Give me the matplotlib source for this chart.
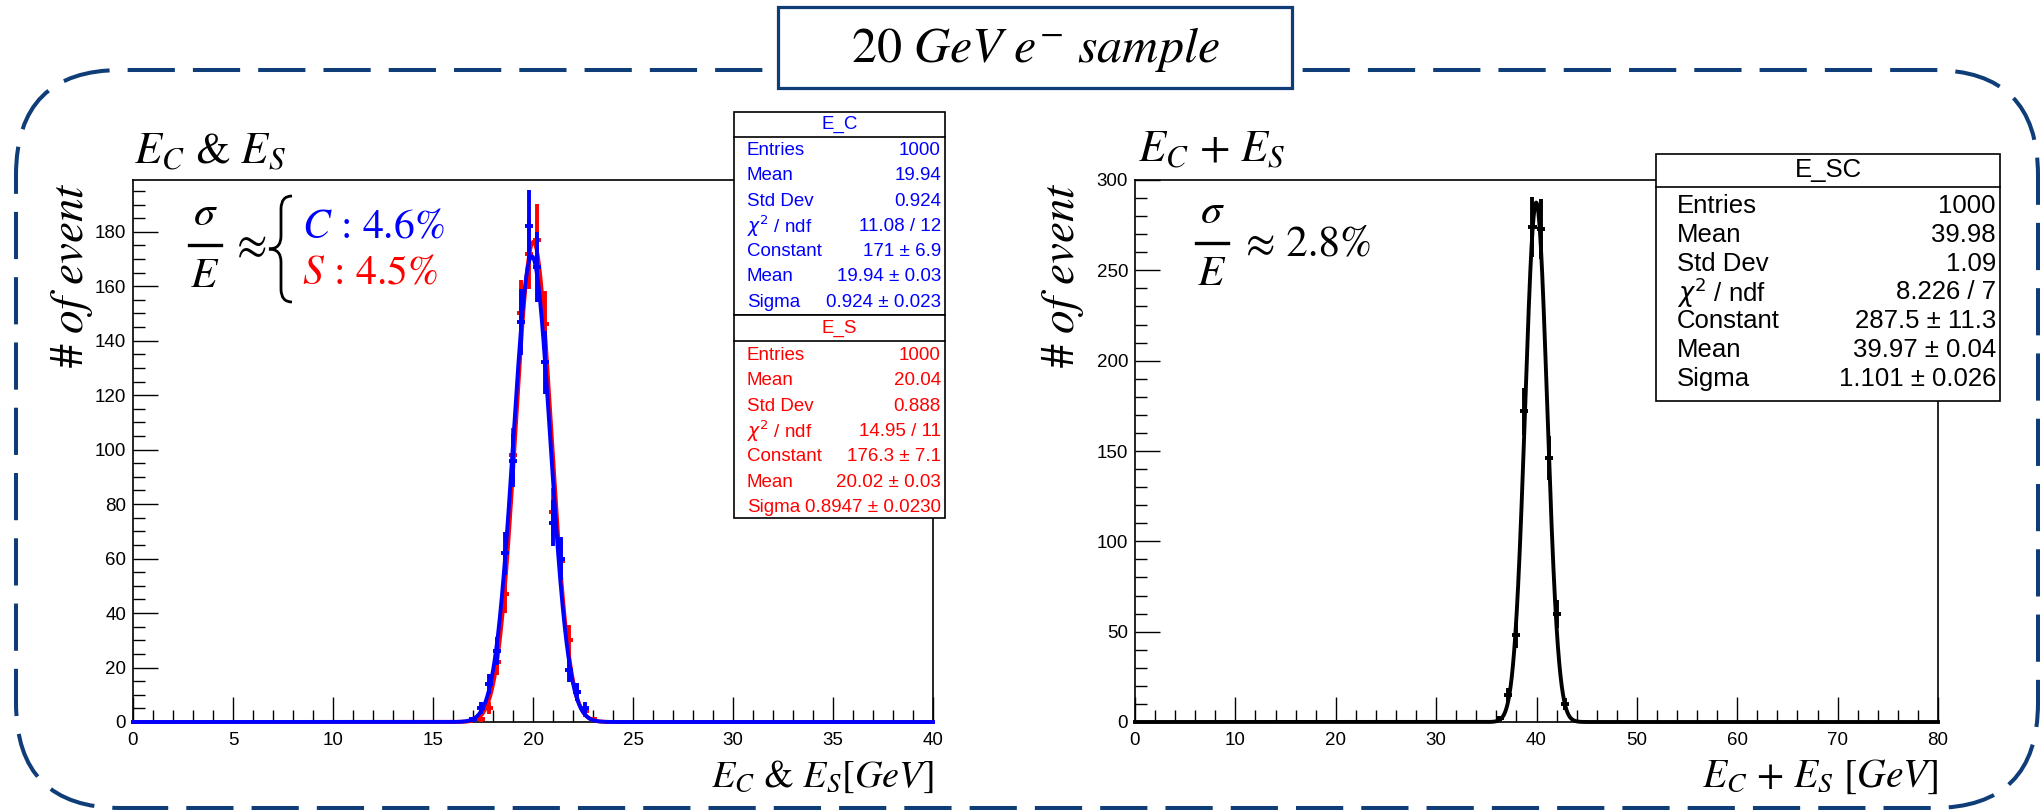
import numpy as np
import matplotlib
matplotlib.use('Agg')
import matplotlib.pyplot as plt
from matplotlib.patches import FancyBboxPatch, Rectangle, PathPatch
from matplotlib.path import Path
from matplotlib.lines import Line2D
from matplotlib.ticker import MultipleLocator
from matplotlib.transforms import IdentityTransform

# ---------------- data ----------------
left_bin_width = 0.4
c_centers = [17.0, 17.4, 17.8, 18.2, 18.6, 19.0, 19.4, 19.8, 20.2, 20.6, 21.0, 21.4, 21.8, 22.2, 22.6]
c_counts = [1, 5, 14, 26, 62, 96, 147, 182, 167, 132, 73, 60, 19, 11, 5]
s_centers = [17.4, 17.8, 18.2, 18.6, 19.0, 19.4, 19.8, 20.2, 20.6, 21.0, 21.4, 21.8, 22.2, 22.6, 23.0]
s_counts = [1, 5, 22, 47, 98, 150, 172, 177, 146, 77, 59, 30, 11, 4, 1]

right_bin_width = 0.8
sc_centers = [36.4, 37.2, 38.0, 38.8, 39.6, 40.4, 41.2, 42.0, 42.8]
sc_counts = [2, 15, 48, 172, 274, 273, 146, 60, 10]

# gaussian fits: constant, mean, sigma
c_fit = [171.0, 19.94, 0.924]
s_fit = [176.3, 20.02, 0.8947]
sc_fit = [287.5, 39.97, 1.101]

stat_names = ['Entries', 'Mean', 'Std Dev', r'$\chi^{2}$ / ndf', 'Constant', 'Mean', 'Sigma']
c_stats = ['1000', '19.94', '0.924', '11.08 / 12', '171 \u00b1 6.9', '19.94 \u00b1 0.03', '0.924 \u00b1 0.023']
s_stats = ['1000', '20.04', '0.888', '14.95 / 11', '176.3 \u00b1 7.1', '20.02 \u00b1 0.03', '0.8947 \u00b1 0.0230']
sc_stats = ['1000', '39.98', '1.09', '8.226 / 7', '287.5 \u00b1 11.3', '39.97 \u00b1 0.04', '1.101 \u00b1 0.026']

c_res = '4.6%'
s_res = '4.5%'
sc_res = '2.8%'

BLUE = '#0000ff'
RED = '#ff0000'
NAVY = '#0f3d78'

plt.rcParams['font.family'] = ['Liberation Sans', 'DejaVu Sans']
plt.rcParams['lines.scale_dashes'] = False
plt.rcParams['mathtext.fontset'] = 'stix'
SERIF = ['STIXGeneral', 'DejaVu Serif']

W, H = 2043, 810
fig = plt.figure(figsize=(W / 100, H / 100), dpi=100)
fig.patch.set_facecolor('white')
IDT = IdentityTransform()


def add_ax(x0, y0, x1, y1):
    return fig.add_axes([x0 / W, 1 - y1 / H, (x1 - x0) / W, (y1 - y0) / H])


def T(x, y, s, **kw):
    return fig.text(x / W, 1 - y / H, s, **kw)


def hline(x0, x1, y, color='black', lw=1.2, z=6):
    fig.add_artist(Line2D([x0, x1], [H - y, H - y], transform=IDT, color=color, lw=lw, zorder=z))


def style(ax, xmax, ymax, xmaj, xmin, ymaj, ymin):
    ax.set_xlim(0, xmax)
    ax.set_ylim(0, ymax)
    ax.xaxis.set_major_locator(MultipleLocator(xmaj))
    ax.xaxis.set_minor_locator(MultipleLocator(xmin))
    ax.yaxis.set_major_locator(MultipleLocator(ymaj))
    ax.yaxis.set_minor_locator(MultipleLocator(ymin))
    ax.tick_params(which='both', direction='in', top=False, right=False, width=1.0, colors='black')
    ax.tick_params(which='major', length=18, labelsize=13.5)
    ax.tick_params(which='minor', length=8.6)
    ax.tick_params(axis='x', pad=7)
    ax.tick_params(axis='y', pad=5)
    for s in ax.spines.values():
        s.set_linewidth(1.2)


def draw_hist(ax, centers, counts, bw, fit, color, xmax):
    centers = np.asarray(centers, float)
    counts = np.asarray(counts, float)
    ax.errorbar(centers, counts, xerr=bw / 2, yerr=np.sqrt(counts), fmt='none',
                ecolor=color, elinewidth=2.8, capsize=0, zorder=3)
    xs = np.linspace(0, xmax, 4000)
    A, mu, sg = fit
    ax.plot(xs, A * np.exp(-0.5 * ((xs - mu) / sg) ** 2), color=color, lw=2.8,
            clip_on=False, zorder=3)


axL = add_ax(133, 180, 933, 722)
axR = add_ax(1135, 180, 1938, 722)
style(axL, 40, 199, 5, 1, 20, 5)
style(axR, 80, 300, 10, 2, 50, 10)

draw_hist(axL, s_centers, s_counts, left_bin_width, s_fit, RED, 40)
draw_hist(axL, c_centers, c_counts, left_bin_width, c_fit, BLUE, 40)
draw_hist(axR, sc_centers, sc_counts, right_bin_width, sc_fit, 'black', 80)

# ---------------- titles and labels ----------------
T(134, 164, r'$E_C$ & $E_S$', fontsize=32, family=SERIF, ha='left', va='baseline')
T(1138, 162, r'$E_C$ + $E_S$', fontsize=32, family=SERIF, ha='left', va='baseline')
T(72, 182, r'$\#\ of\ event$', fontsize=34, rotation=90, ha='center', va='top')
T(1063, 182, r'$\#\ of\ event$', fontsize=34, rotation=90, ha='center', va='top')
T(933, 787, r'$E_C$ & $E_S[GeV]$', fontsize=27.5, family=SERIF, ha='right', va='baseline')
T(1939, 787, r'$E_C$ + $E_S$ $[GeV]$', fontsize=28.5, family=SERIF, ha='right', va='baseline')

# ---------------- resolution annotations ----------------
def frac(xc, ybar, half=16):
    T(xc, ybar - 31, r'$\sigma$', fontsize=31, ha='center', va='center')
    T(xc, ybar + 31, r'$E$', fontsize=31, ha='center', va='center')
    hline(xc - half, xc + half, ybar, lw=2.4, z=6)


frac(205, 245)
T(252, 247, '\u2248', fontsize=32, family=SERIF, ha='center', va='center')
# curly brace
xr, xm, xl, y0, y1 = 292, 281, 269, 196, 302
ym = (y0 + y1) / 2
verts = [(xr, y0), (xm, y0), (xm, y0 + 13), (xm, ym - 13), (xm, ym), (xl, ym),
         (xm, ym), (xm, ym + 13), (xm, y1 - 13), (xm, y1), (xr, y1)]
codes = [Path.MOVETO, Path.CURVE3, Path.CURVE3, Path.LINETO, Path.CURVE3, Path.CURVE3,
         Path.CURVE3, Path.CURVE3, Path.LINETO, Path.CURVE3, Path.CURVE3]
verts = [(x, H - y) for x, y in verts]
fig.add_artist(PathPatch(Path(verts, codes), transform=IDT, fill=False, ec='black', lw=2.0, zorder=6))
T(302, 228, r'$C$ : ' + c_res, fontsize=30, family=SERIF, color=BLUE, ha='left', va='center')
T(302, 274, r'$S$ : ' + s_res, fontsize=30, family=SERIF, color=RED, ha='left', va='center')

frac(1212, 243)
T(1246, 245, '\u2248 ' + sc_res, fontsize=31, family=SERIF, ha='left', va='center')


# ---------------- stats boxes ----------------
def stats_box(x0, x1, ytop, yhead, ybot, row0, row_h, title, vals, color, fs, pad_l, pad_r):
    fig.add_artist(Rectangle((x0, H - ybot), x1 - x0, ybot - ytop, transform=IDT,
                             fc='white', ec='black', lw=1.2, zorder=5))
    hline(x0, x1, yhead)
    T((x0 + x1) / 2, (ytop + yhead) / 2, title, ha='center', va='center', color=color,
      fontsize=fs, zorder=7)
    for i, (n, v) in enumerate(zip(stat_names, vals)):
        yc = row0 + row_h * i
        T(x0 + pad_l, yc, n, ha='left', va='center', color=color, fontsize=fs, zorder=7,
          math_fontfamily='dejavusans')
        T(x1 - pad_r, yc, v, ha='right', va='center', color=color, fontsize=fs, zorder=7)


stats_box(734, 945, 112, 137, 315, 150.5, 25.3, 'E_C', c_stats, BLUE, 13.5, 13, 4)
stats_box(734, 945, 315, 341, 518, 355.5, 25.3, 'E_S', s_stats, RED, 13.5, 13, 4)
stats_box(1656, 2000, 154, 187, 401, 206, 28.8, 'E_SC', sc_stats, 'black', 18.5, 21, 4)

# ---------------- frame decoration ----------------
border = FancyBboxPatch((16, H - 808), 2022, 738, boxstyle='round,pad=0,rounding_size=105',
                        transform=IDT, fill=False, ec=NAVY, lw=2.9, linestyle=(0, (34, 13)), zorder=1)
fig.add_artist(border)
fig.add_artist(Rectangle((778, H - 88), 514, 81, transform=IDT, fc='white', ec=NAVY, lw=2.3, zorder=10))
T(1035, 49, r'$20\ GeV\ e^{-}\ sample$', fontsize=36, ha='center', va='center', zorder=11)

fig.savefig('out.png', dpi=100)
